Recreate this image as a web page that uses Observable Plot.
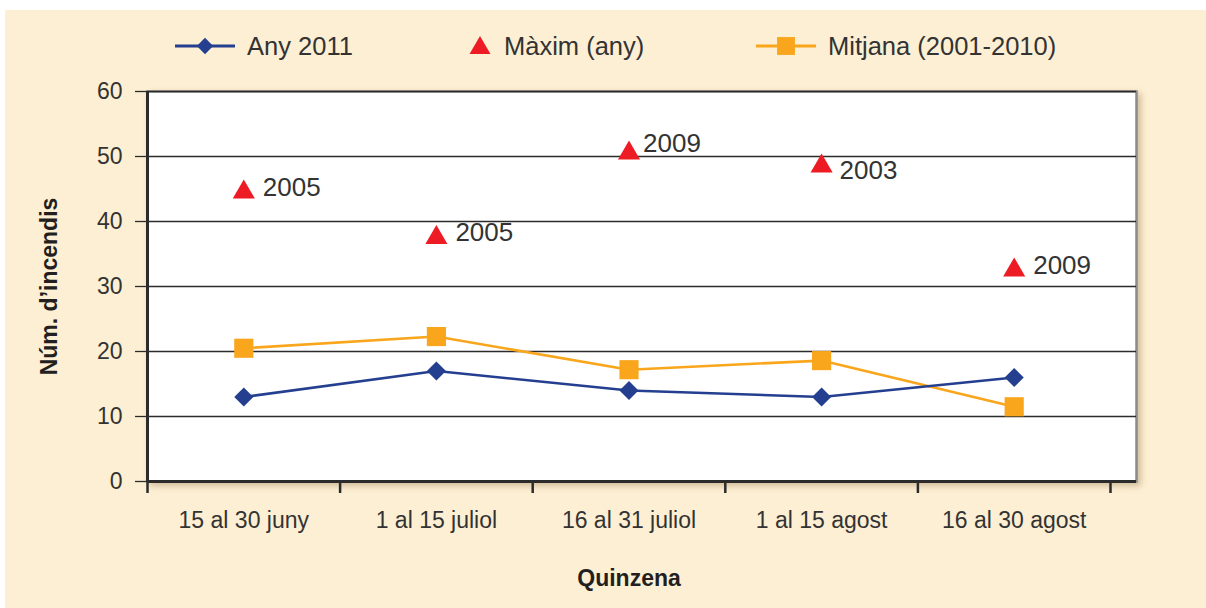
<!DOCTYPE html>
<html><head><meta charset="utf-8">
<script src="https://cdn.jsdelivr.net/npm/d3@7"></script>
<script src="https://cdn.jsdelivr.net/npm/@observablehq/plot@0.6"></script>
<style>
body{margin:0;background:#fff;font-family:"Liberation Sans",Arial,sans-serif;}
#panel{position:absolute;left:5px;top:10px;width:1201px;height:598px;background:#fdefd3;overflow:hidden}
#legend{position:absolute;left:0;top:0;height:72px;width:100%}
.item{position:absolute;top:0;height:72px;display:flex;align-items:center;font-size:25.5px;color:#333;white-space:nowrap}
.item svg{display:block}
.item span{margin-left:12px}
#chart{position:absolute;left:0;top:60px}
</style></head><body><div id="panel"><div id="legend"></div><div id="chart"></div></div>
<script>
const quinzenes = ["15 al 30 juny", "1 al 15 juliol", "16 al 31 juliol", "1 al 15 agost", "16 al 30 agost"];
const any2011 = [13, 17, 14, 13, 16];
const maxim = [45, 38, 51, 49, 33];
const maximYear = ["2005", "2005", "2009", "2003", "2009"];
const mitjana = [20.5, 22.3, 17.2, 18.6, 11.5];
const yTicks = [0, 10, 20, 30, 40, 50, 60];
const seriesNames = ["Any 2011", "Màxim (any)", "Mitjana (2001-2010)"];
const yTitle = "Núm. d’incendis";
const xTitle = "Quinzena";

const blue = "#243f8f", red = "#ed1c24", orange = "#f9a61c", ink = "#333333";

const rows = (vals) => vals.map((v, i) => ({i, x: i + 0.5, v, cat: quinzenes[i]}));
const dAny = rows(any2011);
const dMit = rows(mitjana);
const dMax = rows(maxim).map((d) => ({...d, year: maximYear[d.i]}));

// Legend
const legendSpecs = [
  {name: seriesNames[0], color: blue, symbol: d3.symbolDiamond2, size: 170, line: true, left: 170},
  {name: seriesNames[1], color: red, symbol: d3.symbolTriangle, size: 190, line: false, left: 463},
  {name: seriesNames[2], color: orange, symbol: d3.symbolSquare, size: 320, line: true, left: 751}
];
const legend = d3.select("#legend");
for (const s of legendSpecs) {
  const it = legend.append("div").attr("class", "item").style("left", s.left + "px");
  const w = s.line ? 60 : 24;
  const svg = it.append("svg").attr("width", w).attr("height", 26);
  if (s.line) svg.append("line").attr("x1", 0).attr("x2", w).attr("y1", 13).attr("y2", 13).attr("stroke", s.color).attr("stroke-width", 3);
  svg.append("path").attr("d", d3.symbol(s.symbol, s.size)()).attr("transform", `translate(${w / 2},${s.line ? 13 : 15})`).attr("fill", s.color);
  it.append("span").text(s.name);
}

const chart = Plot.plot({
  width: 1201,
  height: 538,
  marginLeft: 142,
  marginRight: 70,
  marginTop: 21,
  marginBottom: 127,
  style: {background: "transparent", fontFamily: "'Liberation Sans', Arial, sans-serif", color: ink},
  x: {type: "linear", domain: [0, quinzenes.length], range: [142, 1105]},
  y: {domain: [0, 60], label: null},
  marks: [
    Plot.frame({fill: "white", stroke: "#8a8a8a", strokeWidth: 2.5, imageFilter: "drop-shadow(3px 3px 3px rgba(120,90,40,0.35))"}),
    Plot.ruleY(yTicks.filter((t) => t > 0), {stroke: "#2b2b2b", strokeWidth: 1.3}),
    Plot.axisY({ticks: yTicks, tickSize: 12, tickPadding: 13, fontSize: 23, stroke: "#2b2b2b", strokeWidth: 1.3, label: null}),
    Plot.axisX({ticks: d3.range(0.5, quinzenes.length, 1), tickSize: 0, tickPadding: 30, fontSize: 23, tickFormat: (t) => quinzenes[Math.floor(t)], label: null}),
    Plot.axisX({ticks: d3.range(0, quinzenes.length + 1), tickSize: 12, tickFormat: () => "", stroke: "#2b2b2b", strokeWidth: 2.5, label: null}),
    Plot.ruleX([0], {stroke: "#2b2b2b", strokeWidth: 3}),
    Plot.ruleY([0], {stroke: "#2b2b2b", strokeWidth: 3}),
    Plot.line(dMit, {x: "x", y: "v", stroke: orange, strokeWidth: 2.6}),
    Plot.line(dAny, {x: "x", y: "v", stroke: blue, strokeWidth: 2.6}),
    Plot.dot(dAny, {x: "x", y: "v", symbol: "diamond2", r: 8.6, fill: blue}),
    Plot.dot(dMit, {x: "x", y: "v", symbol: "square", r: 10.8, fill: orange}),
    Plot.dot(dMax, {x: "x", y: "v", symbol: "triangle", r: 8.2, dy: 3.2, fill: red}),
    Plot.text(dMax.filter((d) => d.i !== 2 && d.i !== 3), {x: "x", y: "v", text: "year", dx: 19, dy: -1.5, textAnchor: "start", fontSize: 26, fill: ink}),
    Plot.text(dMax.filter((d) => d.i === 2), {x: "x", y: "v", text: "year", dx: 14, dy: -6.5, textAnchor: "start", fontSize: 26, fill: ink}),
    Plot.text(dMax.filter((d) => d.i === 3), {x: "x", y: "v", text: "year", dx: 18, dy: 8, textAnchor: "start", fontSize: 26, fill: ink}),
    Plot.text([yTitle], {frameAnchor: "left", dx: -98, rotate: -90, textAnchor: "middle", lineAnchor: "middle", fontSize: 23, fontWeight: "bold", fill: "#231f20"}),
    Plot.text([xTitle], {x: quinzenes.length / 2, frameAnchor: "bottom", dy: 97, textAnchor: "middle", lineAnchor: "middle", fontSize: 23, fontWeight: "bold", fill: "#231f20"})
  ]
});
document.getElementById("chart").append(chart);
</script>
</body></html>
